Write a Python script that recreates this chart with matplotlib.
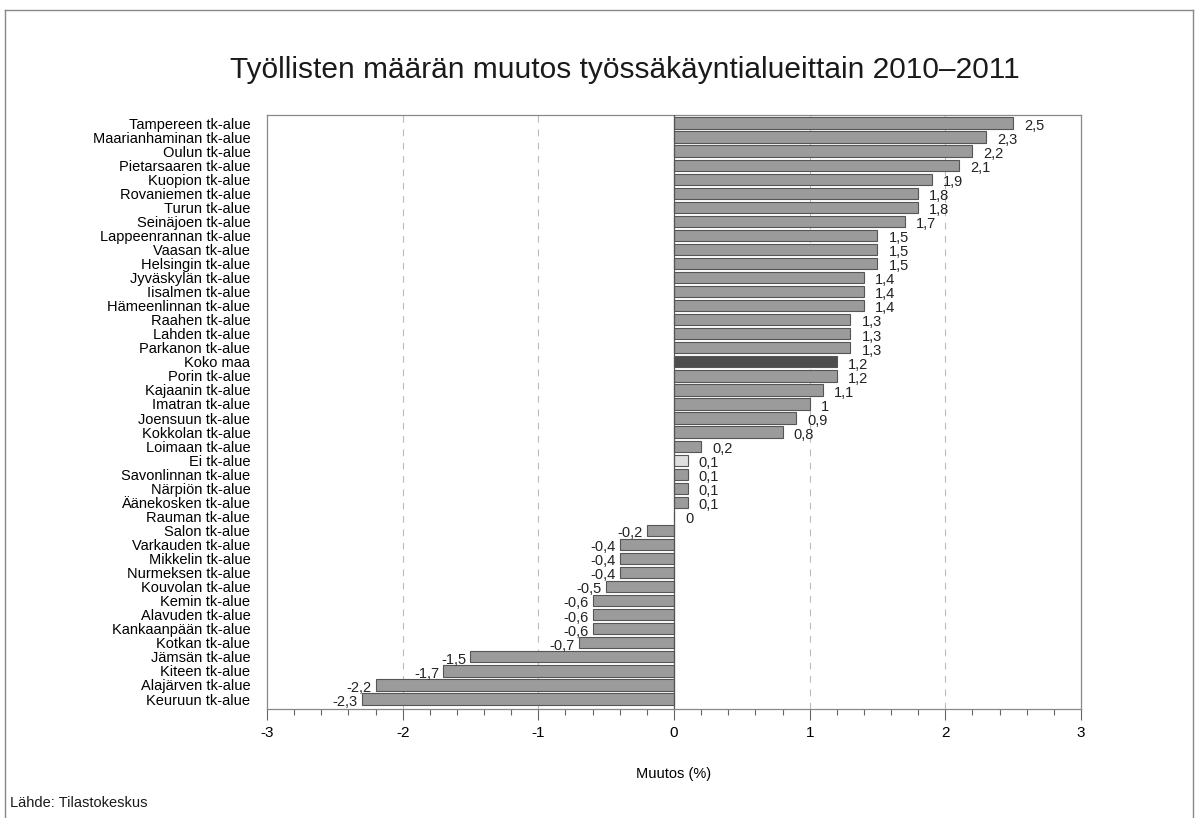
import numpy as np
import matplotlib.pyplot as plt
from matplotlib.lines import Line2D

plt.rcParams['font.family'] = ['Liberation Sans', 'DejaVu Sans']

areas = ["Tampereen tk-alue", "Maarianhaminan tk-alue", "Oulun tk-alue",
         "Pietarsaaren tk-alue", "Kuopion tk-alue", "Rovaniemen tk-alue",
         "Turun tk-alue", "Seinäjoen tk-alue", "Lappeenrannan tk-alue",
         "Vaasan tk-alue", "Helsingin tk-alue", "Jyväskylän tk-alue",
         "Iisalmen tk-alue", "Hämeenlinnan tk-alue", "Raahen tk-alue",
         "Lahden tk-alue", "Parkanon tk-alue", "Koko maa", "Porin tk-alue",
         "Kajaanin tk-alue", "Imatran tk-alue", "Joensuun tk-alue",
         "Kokkolan tk-alue", "Loimaan tk-alue", "Ei tk-alue",
         "Savonlinnan tk-alue", "Närpiön tk-alue", "Äänekosken tk-alue",
         "Rauman tk-alue", "Salon tk-alue", "Varkauden tk-alue",
         "Mikkelin tk-alue", "Nurmeksen tk-alue", "Kouvolan tk-alue",
         "Kemin tk-alue", "Alavuden tk-alue", "Kankaanpään tk-alue",
         "Kotkan tk-alue", "Jämsän tk-alue", "Kiteen tk-alue",
         "Alajärven tk-alue", "Keuruun tk-alue"]
change = [2.5, 2.3, 2.2, 2.1, 1.9, 1.8, 1.8, 1.7, 1.5, 1.5, 1.5, 1.4, 1.4,
          1.4, 1.3, 1.3, 1.3, 1.2, 1.2, 1.1, 1.0, 0.9, 0.8, 0.2, 0.1, 0.1,
          0.1, 0.1, 0.0, -0.2, -0.4, -0.4, -0.4, -0.5, -0.6, -0.6, -0.6,
          -0.7, -1.5, -1.7, -2.2, -2.3]

colors = []
for a in areas:
    if a == "Koko maa":
        colors.append('#4d4d4d')
    elif a == "Ei tk-alue":
        colors.append('#dedede')
    else:
        colors.append('#9b9b9b')

fig = plt.figure(figsize=(11.96, 8.18), dpi=100)
ax = fig.add_axes([267/1196, 1-709/818, (1081-267)/1196, (709-115)/818])

y = np.arange(len(areas))
ax.barh(y, change, height=0.8, color=colors, edgecolor='#555555',
        linewidth=0.8, zorder=3)

for yi, v in zip(y, change):
    txt = ('%.1f' % v).replace('.', ',')
    if txt.endswith(',0'):
        txt = txt[:-2]
    if v >= 0:
        ax.annotate(txt, (v, yi), xytext=(8, -2), textcoords='offset points',
                    ha='left', va='center', fontsize=10.5, color='#222222')
    else:
        ax.annotate(txt, (v, yi), xytext=(-3, -2), textcoords='offset points',
                    ha='right', va='center', fontsize=10.5, color='#222222')

ax.set_xlim(-3, 3)
ax.set_ylim(len(areas) - 1 + 0.71, -0.57)
ax.set_yticks(y)
ax.set_yticklabels(areas, fontsize=10.5)
ax.tick_params(axis='y', length=0, pad=12)

ax.set_xticks(np.arange(-3, 4, 1))
ax.set_xticklabels([str(t) for t in range(-3, 4)], fontsize=11)
ax.set_xticks(np.arange(-3, 3.01, 0.2), minor=True)
ax.tick_params(axis='x', which='major', length=8, width=0.8, color='#666666', pad=4)
ax.tick_params(axis='x', which='minor', length=4, width=0.8, color='#666666')

for gx in [-2, -1, 1, 2]:
    ax.axvline(gx, color='#bbbbbb', lw=0.8, linestyle=(0, (6, 6)), zorder=1)
ax.axvline(0, color='#555555', lw=0.9, zorder=4)

for s in ax.spines.values():
    s.set_color('#888888')
    s.set_linewidth(0.9)

ax.set_xlabel('Muutos (%)', fontsize=10.5, labelpad=20)

fig.text(625/1196, 1 - 70/818, 'Työllisten määrän muutos työssäkäyntialueittain 2010–2011',
         ha='center', va='center', fontsize=21.5, color='#1a1a1a')
fig.text(10/1196, 1 - 803/818, 'Lähde: Tilastokeskus', ha='left', va='center',
         fontsize=10.5, color='#1a1a1a')

# outer frame
fx0, fx1, fy1 = 5/1196, 1193/1196, 1 - 10/818
for xs, ys in [([fx0, fx1], [fy1, fy1]), ([fx0, fx0], [0, fy1]), ([fx1, fx1], [0, fy1])]:
    fig.add_artist(Line2D(xs, ys, color='#888888', lw=1.0, transform=fig.transFigure))

fig.savefig('out.png', dpi=100)
